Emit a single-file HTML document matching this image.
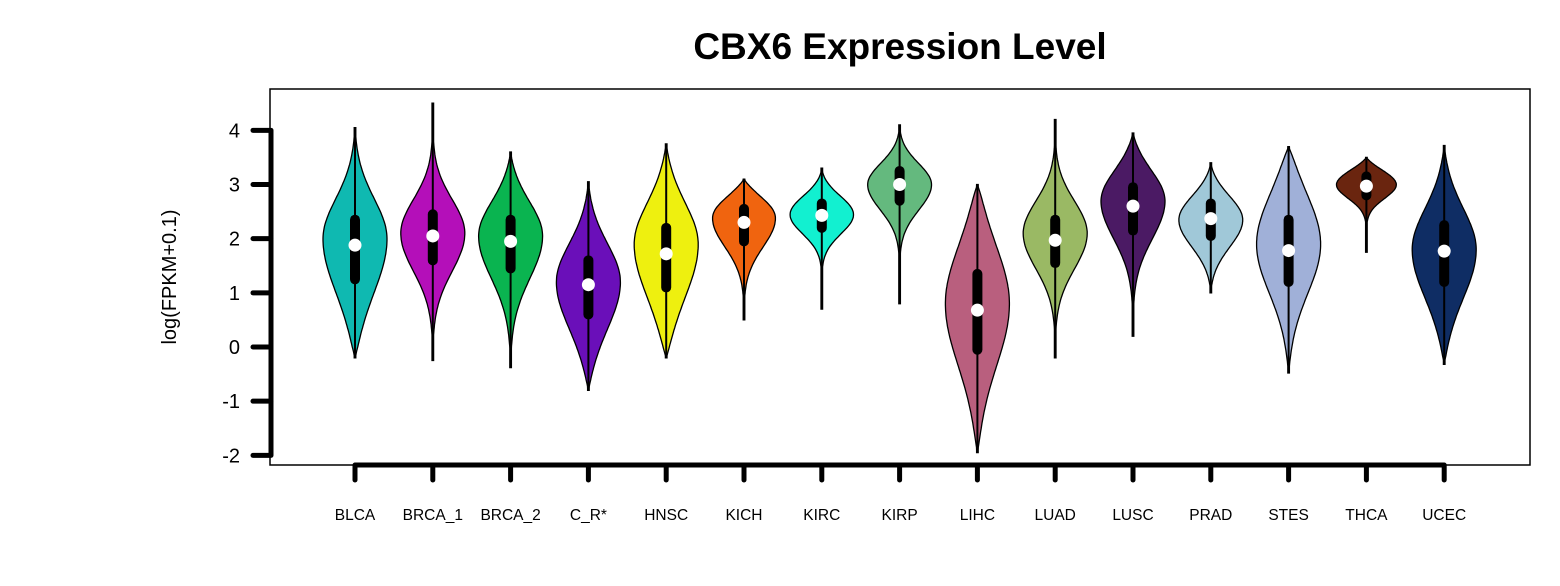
<!DOCTYPE html>
<html><head><meta charset="utf-8"><style>
html,body{margin:0;padding:0;background:#fff;}
svg{display:block;font-family:"Liberation Sans",Arial,sans-serif;}
</style></head><body>
<svg id="chart" width="1560" height="586" viewBox="0 0 1560 586">
<text x="900" y="59" text-anchor="middle" font-size="37" font-weight="bold">CBX6 Expression Level</text>
<rect x="270" y="89" width="1260" height="376" fill="none" stroke="#000" stroke-width="1.5"/>
<text transform="translate(176,277) rotate(-90)" text-anchor="middle" font-size="20">log(FPKM+0.1)</text>
<g id="yaxis"></g>
<g id="xaxis"></g>
<g id="violins"></g>
</svg>
<script>
const categories = ["BLCA","BRCA_1","BRCA_2","C_R*","HNSC","KICH","KIRC","KIRP","LIHC","LUAD","LUSC","PRAD","STES","THCA","UCEC"];
const minVals = [-0.2,-0.25,-0.38,-0.8,-0.2,0.5,0.7,0.8,-1.95,-0.2,0.2,1.0,-0.48,1.75,-0.32];
const maxVals = [4.05,4.5,3.6,3.05,3.75,3.1,3.3,4.1,3.0,4.2,3.95,3.4,3.7,3.5,3.72];
const q1Vals = [1.25,1.6,1.45,0.6,1.1,1.95,2.2,2.7,-0.05,1.55,2.15,2.05,1.2,2.8,1.2];
const medVals = [1.88,2.05,1.95,1.15,1.72,2.3,2.43,3.0,0.68,1.97,2.6,2.37,1.78,2.97,1.77];
const q3Vals = [2.35,2.45,2.35,1.6,2.2,2.55,2.65,3.25,1.35,2.35,2.95,2.65,2.35,3.15,2.25];
const modeVals = [2.0,2.1,2.05,1.2,1.9,2.4,2.45,3.0,0.8,2.1,2.7,2.35,1.9,3.02,1.8];
const colors = ["#0fb9b1","#b40fb9","#0ab450","#6a0fb9","#eef00f","#f0640f","#12f0d0","#64b97e","#b95f7e","#9ab964","#4b1a64","#a0c8d8","#a0b0d8","#6a250f","#0f2d64"];
const yTicks = [-2,-1,0,1,2,3,4];

const NS="http://www.w3.org/2000/svg";
const y = v => 347 - v*54.17;
const x = i => 355 + i*77.8;
const HW = 32;
function mk(tag, attrs, parent){const e=document.createElementNS(NS,tag);for(const k in attrs)e.setAttribute(k,attrs[k]);parent.appendChild(e);return e;}

const ya=document.getElementById('yaxis');
const yl=mk('line',{x1:271,x2:271,y1:y(4),y2:y(-2),stroke:'#000','stroke-width':5},ya);


yTicks.forEach(t=>{
  const l=mk('line',{x1:253,x2:271,y1:y(t),y2:y(t),stroke:'#000','stroke-width':5,'stroke-linecap':'round'},ya);
  
  
  const tx=mk('text',{x:240,y:y(t)+7,'text-anchor':'end','font-size':20},ya);
  tx.textContent=t;
  
  
});
const xa=document.getElementById('xaxis');
const xl=mk('line',{x1:x(0),x2:x(categories.length-1),y1:465,y2:465,stroke:'#000','stroke-width':5},xa);


categories.forEach((c,i)=>{
  const l=mk('line',{x1:x(i),x2:x(i),y1:465,y2:480,stroke:'#000','stroke-width':5,'stroke-linecap':'round'},xa);
  
  
  const tx=mk('text',{x:x(i),y:520,'text-anchor':'middle','font-size':15.5},xa);
  tx.textContent=c;
  
  
});

const vg=document.getElementById('violins');
categories.forEach((c,i)=>{
  const g=mk('g',{},vg);
  
  
  const sLo=Math.max(0.15,(medVals[i]-q1Vals[i])/0.674)*1.05;
  const sHi=Math.max(0.15,(q3Vals[i]-medVals[i])/0.674)*1.05;
  const vLo=minVals[i], vHi=maxVals[i];
  const N=100, right=[], left=[];
  for(let k=0;k<=N;k++){
    const v=vLo+(vHi-vLo)*k/N;
    const s=v<modeVals[i]?sLo:sHi;
    const d=(v-modeVals[i])/s;
    const dist=Math.min(v-vLo,vHi-v);
    const taper=1-Math.exp(-dist/0.18);
    const w=Math.max(0.8,HW*Math.exp(-0.5*d*d)*taper);
    right.push([x(i)+w,y(v)]);left.push([x(i)-w,y(v)]);
  }
  const pts=right.concat(left.reverse());
  const p=mk('path',{d:'M'+pts.map(q=>q[0].toFixed(1)+','+q[1].toFixed(1)).join('L')+'Z',fill:colors[i],stroke:'#000','stroke-width':1.3},g);
  
  
  const w=mk('line',{x1:x(i),x2:x(i),y1:y(minVals[i]),y2:y(maxVals[i]),stroke:'#000','stroke-width':2},g);
  
  
  const b=mk('line',{x1:x(i),x2:x(i),y1:y(q1Vals[i]),y2:y(q3Vals[i]),stroke:'#000','stroke-width':10,'stroke-linecap':'round'},g);
  
  
  const m=mk('circle',{cx:x(i),cy:y(medVals[i]),r:6.5,fill:'#fff'},g);
  
  
});
</script>
</body></html>
